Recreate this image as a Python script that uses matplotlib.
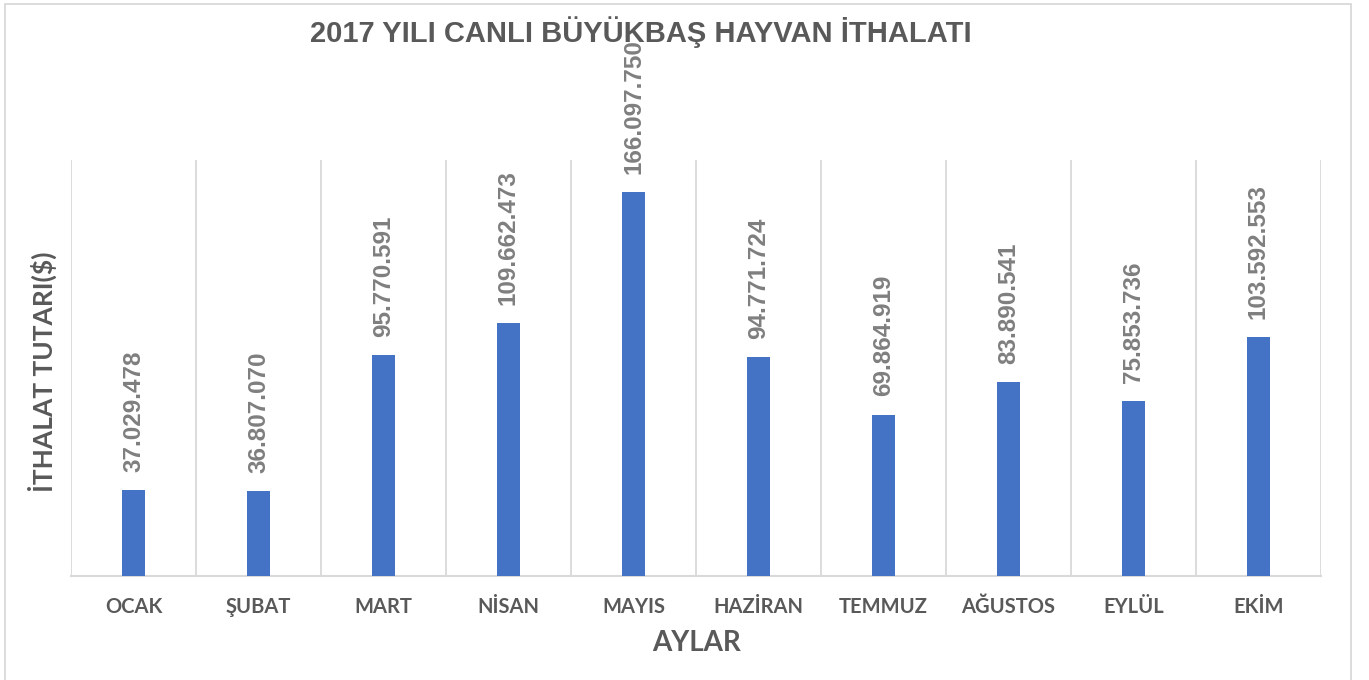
import matplotlib
matplotlib.use("Agg")
import matplotlib.pyplot as plt
from matplotlib.patches import Rectangle

months = ["OCAK", "ŞUBAT", "MART", "NİSAN", "MAYIS", "HAZİRAN",
          "TEMMUZ", "AĞUSTOS", "EYLÜL", "EKİM"]
imports = [37029478, 36807070, 95770591, 109662473, 166097750,
           94771724, 69864919, 83890541, 75853736, 103592553]

title = "2017 YILI CANLI BÜYÜKBAŞ HAYVAN İTHALATI"
ylabel = "İTHALAT TUTARI($)"
xlabel = "AYLAR"

bar_color = "#4472C4"
text_dark = "#595959"
label_gray = "#7F7F7F"
grid_gray = "#D9D9D9"

W, H = 1369, 680
fig = plt.figure(figsize=(W / 100, H / 100), dpi=100)
ax = fig.add_axes([71 / W, 1 - 576 / H, 1250 / W, 416 / H])

x = range(len(months))
ax.bar(x, imports, width=0.19, color=bar_color, zorder=3)

for i, v in enumerate(imports):
    ax.annotate(f"{v:,}".replace(",", "."), (i, v), xytext=(0, 13),
                textcoords="offset points", rotation=90, ha="center", va="bottom",
                fontsize=17.5, fontweight="bold", color=label_gray,
                family=["Liberation Sans", "DejaVu Sans"], annotation_clip=False)

# category separators
for b in range(len(months) + 1):
    ax.axvline(b - 0.5, color=grid_gray, lw=1.3, zorder=1)

ax.set_xlim(-0.5, len(months) - 0.5)
ax.set_ylim(0, 180e6)
ax.set_yticks([])
ax.set_xticks(list(x))
ax.set_xticklabels(months, fontsize=14.5, fontweight="bold", color=text_dark,
                   family=["Lato", "DejaVu Sans"])
ax.tick_params(axis="x", length=0, pad=15)
for s in ["top", "right", "left"]:
    ax.spines[s].set_visible(False)
ax.spines["bottom"].set_color(grid_gray)
ax.spines["bottom"].set_linewidth(1.5)

fig.text(641 / W, 1 - 32 / H, title, ha="center", va="center", fontsize=21,
         fontweight="bold", color=text_dark,
         family=["Liberation Sans Narrow", "Liberation Sans", "DejaVu Sans"])
fig.text(42 / W, 1 - 372 / H, ylabel, ha="center", va="center", rotation=90,
         fontsize=19, fontweight="bold", color=text_dark, family=["Lato", "DejaVu Sans"])
fig.text(697 / W, 1 - 643 / H, xlabel, ha="center", va="center",
         fontsize=20, fontweight="bold", color=text_dark, family=["Lato", "DejaVu Sans"])

fig.patches.append(Rectangle((5 / W, -0.05), 1346 / W, 1.05 - 4 / H,
                             transform=fig.transFigure, fill=False,
                             edgecolor=grid_gray, lw=1.3))

fig.savefig("out.png", dpi=100)
